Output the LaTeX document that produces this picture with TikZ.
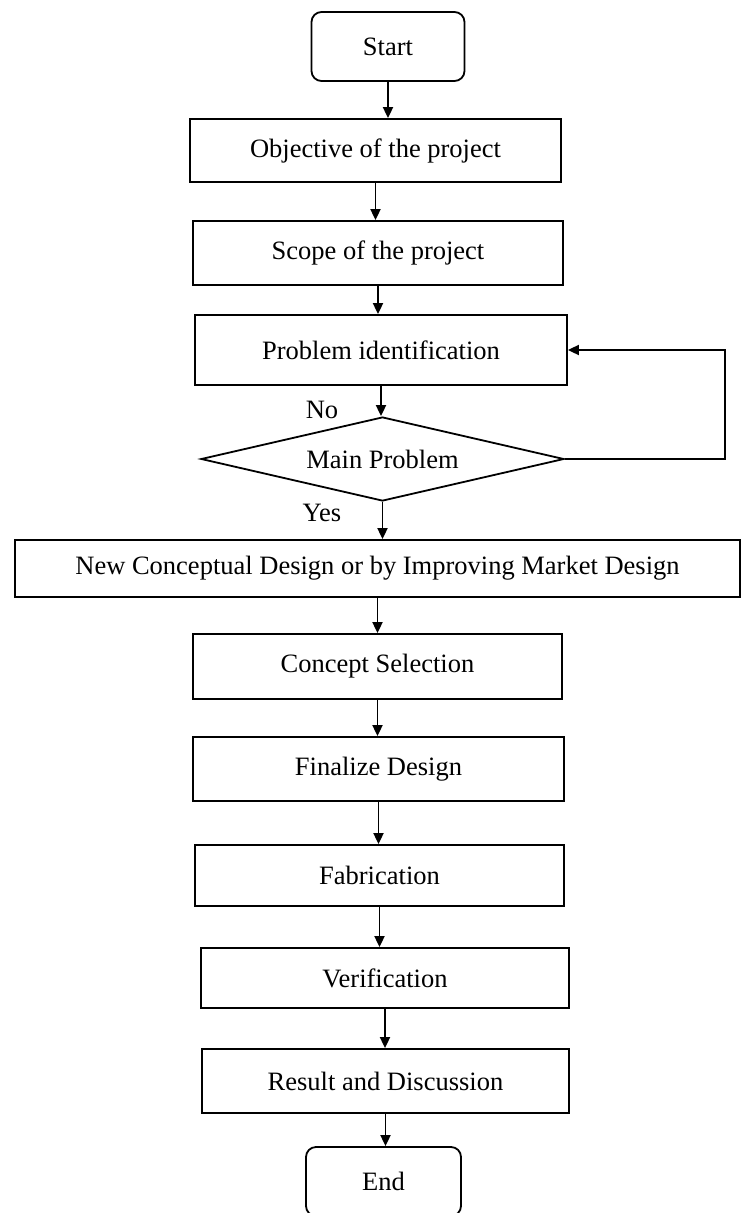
\documentclass[tikz,border=0pt]{standalone}
\usepackage{fontspec}
\setmainfont{Liberation Serif}
\usetikzlibrary{shapes.geometric,arrows.meta,positioning}

\begin{document}
\begin{tikzpicture}[x=1pt,y=-1pt,font=\fontsize{26.5}{30}\selectfont,>={Triangle[length=11pt,width=10pt]},line width=1.8pt]
  \tikzstyle{b}=[draw,rectangle,minimum height=64pt,inner sep=0pt]
  \tikzstyle{t}=[draw,rectangle,rounded corners=10pt,minimum width=153pt,minimum height=69pt]
  \tikzstyle{d}=[draw,diamond,aspect=4.3,minimum width=363pt,minimum height=84pt,inner sep=0pt]
  \useasboundingbox (0,0) rectangle (740,1213);
  \node[t] (st) at (388,46.5) {Start};
  \node[b,minimum width=371pt,minimum height=63pt] (obj) at (375.5,150.5) {Objective of the project};
  \node[b,minimum width=370pt] (sc) at (378,253) {Scope of the project};
  \node[b,minimum width=372pt,minimum height=70pt] (pi) at (381,350) {Problem identification};
  \node[d] (mp) at (382.5,459) {Main Problem};
  \node[b,minimum width=725pt,minimum height=57pt] (nc) at (377.5,568.5) {New Conceptual Design or by Improving Market Design};
  \node[b,minimum width=369pt,minimum height=65pt] (cs) at (377.5,666.5) {Concept Selection};
  \node[b,minimum width=371pt] (fd) at (378.5,769) {Finalize Design};
  \node[b,minimum width=369pt,minimum height=61pt] (fb) at (379.5,875.5) {Fabrication};
  \node[b,minimum width=368pt,minimum height=60pt] (vf) at (385,978) {Verification};
  \node[b,minimum width=367pt] (rd) at (385.5,1081) {Result and Discussion};
  \node[t,minimum width=155pt] (en) at (383.5,1181.5) {End};
  \node (no) at (322,410) {No};
  \node (yes) at (322,513) {Yes};
  \coordinate (turn) at (725,459);
  % main flow
  \draw[->] (st.south) -- (st.south |- obj.north);
  \draw[->] (obj.south) -- (obj.south |- sc.north);
  \draw[->] (sc.south) -- (sc.south |- pi.north);
  \draw[->] (pi.south) -- (pi.south |- mp.north);
  \draw[->] (mp.south) -- (mp.south |- nc.north);
  \draw[->] (nc.south) -- (nc.south |- cs.north);
  \draw[->] (cs.south) -- (cs.south |- fd.north);
  \draw[->] (fd.south) -- (fd.south |- fb.north);
  \draw[->] (fb.south) -- (fb.south |- vf.north);
  \draw[->] (vf.south) -- (vf.south |- rd.north);
  \draw[->] (rd.south) -- (rd.south |- en.north);
  % loop back
  \draw[->] (mp.east) -- (turn) |- (pi.east);
\end{tikzpicture}
\end{document}
